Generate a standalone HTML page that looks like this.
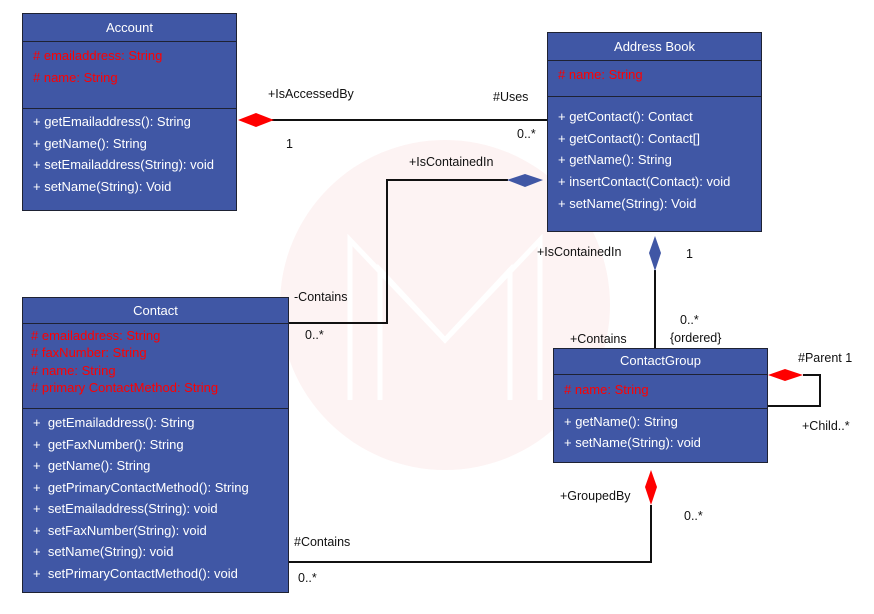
<!DOCTYPE html>
<html><head><meta charset="utf-8"><style>
body{margin:0;width:874px;height:614px;background:#fff;position:relative;overflow:hidden;font-family:"Liberation Sans",sans-serif;}
.box{position:absolute;background:#4057a5;border:1.5px solid #1e2233;box-sizing:border-box;color:#fff;font-size:13px;}
.hd{text-align:center;border-bottom:1.5px solid #1e2233;box-sizing:border-box;}
.at{border-bottom:1.5px solid #1e2233;box-sizing:border-box;color:#f00;padding-left:10px;}
.m{padding-left:10px;}
.lbl{position:absolute;font-size:12.5px;color:#111;white-space:nowrap;}
</style></head><body>
<svg width="874" height="614" style="position:absolute;left:0;top:0">
<circle cx="445" cy="305" r="165" fill="#fdf3f3"/>
<g stroke="#fff" stroke-width="5" fill="none">
<polyline points="350,400 350,240 445,340 540,240 540,400"/>
<polyline points="380,400 380,270 445,340 510,270 510,400"/>
</g>
<g stroke="#111" stroke-width="2" fill="none">
<line x1="272" y1="120" x2="548" y2="120"/>
<polyline points="288,323 387,323 387,180 508,180"/>
<line x1="655" y1="270" x2="655" y2="349"/>
<polyline points="803,375 820,375 820,406 767,406"/>
<polyline points="651,505 651,562 288,562"/>
</g>
<polygon points="238,120 256,113 274,120 256,127" fill="#f00"/>
<polygon points="507,180 525,174 543,180 525,187" fill="#4057a5"/>
<polygon points="655,236 661,253 655,271 649,253" fill="#4057a5"/>
<polygon points="768,375 785,369 803,375 785,381" fill="#f00"/>
<polygon points="651,470 657,487 651,505 645,487" fill="#f00"/>
</svg>

<div class="box" style="left:22px;top:13px;width:215px;height:198px">
<div class="hd" style="height:28px;line-height:27px">Account</div>
<div class="at" style="height:67px;padding-top:3px;line-height:22px"># emailaddress: String<br># name: String</div>
<div class="m" style="padding-top:2px;line-height:21.5px">+ getEmailaddress(): String<br>+ getName(): String<br>+ setEmailaddress(String): void<br>+ setName(String): Void</div>
</div>

<div class="box" style="left:547px;top:32px;width:215px;height:200px">
<div class="hd" style="height:28px;line-height:27px">Address Book</div>
<div class="at" style="height:36px;line-height:28px"># name: String</div>
<div class="m" style="padding-top:9px;line-height:21.7px">+ getContact(): Contact<br>+ getContact(): Contact[]<br>+ getName(): String<br>+ insertContact(Contact): void<br>+ setName(String): Void</div>
</div>

<div class="box" style="left:22px;top:297px;width:267px;height:296px">
<div class="hd" style="height:26px;line-height:26px">Contact</div>
<div class="at" style="height:85px;padding-left:8px;padding-top:3px;line-height:17.3px"># emailaddress: String<br># faxNumber: String<br># name: String<br># primary ContactMethod: String</div>
<div class="m" style="padding-top:3px;line-height:21.5px">+ &nbsp;getEmailaddress(): String<br>+ &nbsp;getFaxNumber(): String<br>+ &nbsp;getName(): String<br>+ &nbsp;getPrimaryContactMethod(): String<br>+ &nbsp;setEmailaddress(String): void<br>+ &nbsp;setFaxNumber(String): void<br>+ &nbsp;setName(String): void<br>+ &nbsp;setPrimaryContactMethod(): void</div>
</div>

<div class="box" style="left:553px;top:348px;width:215px;height:115px">
<div class="hd" style="height:26px;line-height:24px">ContactGroup</div>
<div class="at" style="height:34px;line-height:30px"># name: String</div>
<div class="m" style="padding-top:2px;line-height:21px">+ getName(): String<br>+ setName(String): void</div>
</div>

<div class="lbl" style="left:268px;top:87px">+IsAccessedBy</div>
<div class="lbl" style="left:493px;top:90px">#Uses</div>
<div class="lbl" style="left:286px;top:137px">1</div>
<div class="lbl" style="left:517px;top:127px">0..*</div>
<div class="lbl" style="left:409px;top:155px">+IsContainedIn</div>
<div class="lbl" style="left:294px;top:290px">-Contains</div>
<div class="lbl" style="left:305px;top:328px">0..*</div>
<div class="lbl" style="left:537px;top:245px">+IsContainedIn</div>
<div class="lbl" style="left:686px;top:247px">1</div>
<div class="lbl" style="left:680px;top:313px">0..*</div>
<div class="lbl" style="left:670px;top:331px">{ordered}</div>
<div class="lbl" style="left:570px;top:332px">+Contains</div>
<div class="lbl" style="left:798px;top:351px">#Parent 1</div>
<div class="lbl" style="left:802px;top:419px">+Child..*</div>
<div class="lbl" style="left:560px;top:489px">+GroupedBy</div>
<div class="lbl" style="left:684px;top:509px">0..*</div>
<div class="lbl" style="left:294px;top:535px">#Contains</div>
<div class="lbl" style="left:298px;top:571px">0..*</div>
</body></html>
